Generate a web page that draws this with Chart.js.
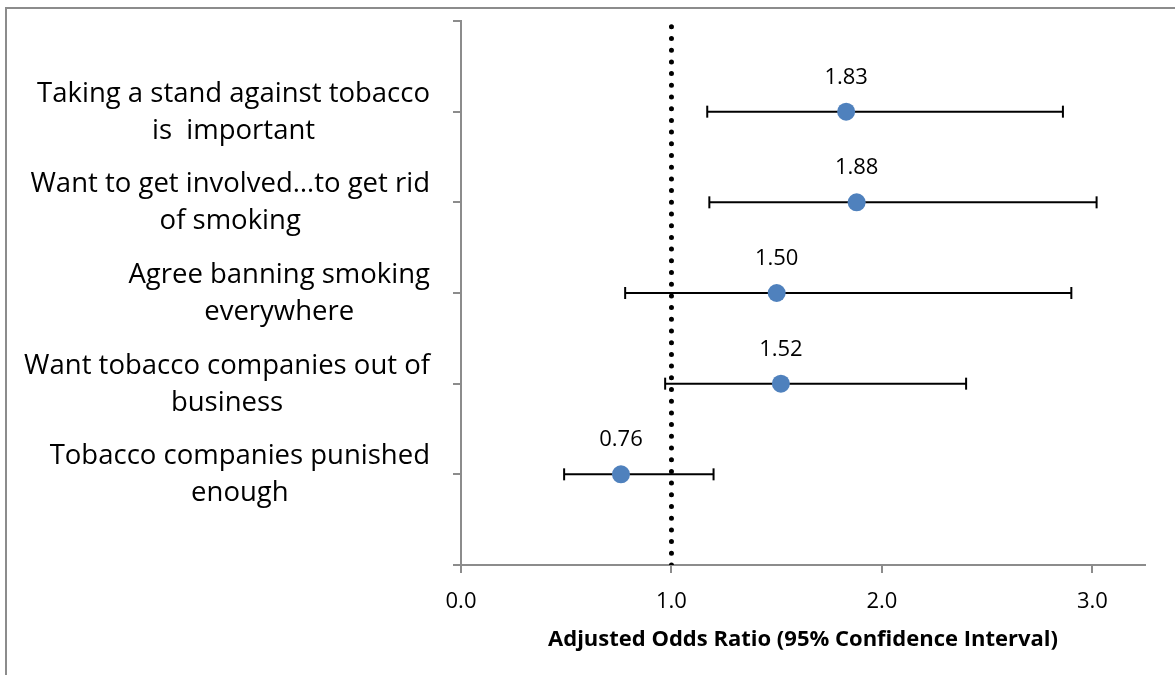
<!DOCTYPE html>
<html>
<head>
<meta charset="utf-8">
<title>Adjusted Odds Ratios</title>
<script src="https://cdn.jsdelivr.net/npm/chart.js@4/dist/chart.umd.min.js"></script>
<style>
  html, body { margin: 0; padding: 0; background: #ffffff; }
  #wrap { width: 1175px; height: 675px; }
</style>
</head>
<body>
<div id="wrap"><canvas id="c" width="1175" height="675"></canvas></div>
<script>
// Survey items (each wrapped onto two lines)
const categories = [
  ['Taking a stand against tobacco', 'is  important'],
  ['Want to get involved\u2026to get rid', 'of smoking'],
  ['Agree banning smoking', 'everywhere'],
  ['Want tobacco companies out of', 'business'],
  ['Tobacco companies punished', 'enough']
];
// Adjusted odds ratios and 95% confidence limits
const oddsRatios = [1.83, 1.88, 1.50, 1.52, 0.76];
const ciLower    = [1.17, 1.18, 0.78, 0.97, 0.49];
const ciUpper    = [2.86, 3.02, 2.90, 2.40, 1.20];
// Row position of each item on the vertical axis (top row first)
const rowPositions = [5, 4, 3, 2, 1];
// Horizontal axis ticks and the line of no effect
const xTickValues = [0, 1, 2, 3];
const referenceValue = 1;

const FONT = '"Open Sans", Lato, sans-serif';
const AXIS_GREY = '#8c8c8c';

// Grey frame along the top and left edges
const framePlugin = {
  id: 'frame',
  beforeDraw(chart) {
    const ctx = chart.ctx;
    ctx.save();
    ctx.fillStyle = '#ffffff';
    ctx.fillRect(0, 0, chart.width, chart.height);
    ctx.strokeStyle = AXIS_GREY;
    ctx.lineWidth = 2;
    ctx.beginPath();
    ctx.moveTo(6, chart.height);
    ctx.lineTo(6, 8);
    ctx.lineTo(chart.width, 8);
    ctx.stroke();
    ctx.restore();
  }
};

// Item labels: each block right-aligned to the axis, lines centred within it
const itemLabelPlugin = {
  id: 'itemLabels',
  afterDraw(chart) {
    const ctx = chart.ctx;
    const y = chart.scales.y;
    const rightEdge = 430;
    ctx.save();
    ctx.font = '27.5px ' + FONT;
    ctx.fillStyle = '#000000';
    ctx.textAlign = 'center';
    ctx.textBaseline = 'alphabetic';
    categories.forEach((lines, i) => {
      const widest = Math.max(...lines.map(l => ctx.measureText(l).width));
      const cx = rightEdge - widest / 2;
      const py = y.getPixelForValue(rowPositions[i]);
      ctx.fillText(lines[0], cx, py - 10);
      ctx.fillText(lines[1], cx, py + 27);
    });
    ctx.restore();
  }
};

// Value labels above each estimate
const valueLabelPlugin = {
  id: 'valueLabels',
  afterDatasetsDraw(chart) {
    const ctx = chart.ctx;
    const x = chart.scales.x, y = chart.scales.y;
    ctx.save();
    ctx.font = '22px ' + FONT;
    ctx.fillStyle = '#000000';
    ctx.textAlign = 'center';
    ctx.textBaseline = 'alphabetic';
    oddsRatios.forEach((v, i) => {
      ctx.fillText(v.toFixed(2), x.getPixelForValue(v), y.getPixelForValue(rowPositions[i]) - 28);
    });
    ctx.restore();
  }
};

// One line dataset per confidence interval, with vertical caps at both ends
const intervalDatasets = oddsRatios.map((v, i) => ({
  type: 'line',
  data: [{ x: ciLower[i], y: rowPositions[i] }, { x: ciUpper[i], y: rowPositions[i] }],
  showLine: true,
  borderColor: '#000000',
  borderWidth: 2,
  pointStyle: 'line',
  rotation: 90,
  pointRadius: 6,
  pointBorderWidth: 2,
  pointBorderColor: '#000000',
  order: 2
}));

new Chart(document.getElementById('c'), {
  type: 'scatter',
  data: {
    datasets: [
      {
        data: oddsRatios.map((v, i) => ({ x: v, y: rowPositions[i] })),
        backgroundColor: '#4f81bd',
        borderColor: '#4f81bd',
        pointRadius: 9,
        pointBorderWidth: 0,
        order: 0
      },
      {
        type: 'line',
        data: [{ x: referenceValue, y: 0 }, { x: referenceValue, y: 6 }],
        showLine: true,
        borderColor: '#000000',
        borderWidth: 5,
        borderDash: [0, 11.7],
        borderCapStyle: 'round',
        pointRadius: 0,
        order: 1
      },
      ...intervalDatasets
    ]
  },
  options: {
    responsive: false,
    animation: false,
    devicePixelRatio: 1,
    layout: { padding: { top: 21, right: 30, bottom: 0, left: 0 } },
    plugins: {
      legend: { display: false },
      tooltip: { enabled: false }
    },
    scales: {
      x: {
        type: 'linear',
        min: 0,
        max: 3.25,
        afterBuildTicks(scale) {
          scale.ticks = xTickValues.map(v => ({ value: v }));
        },
        afterFit(scale) { scale.height = 110; },
        ticks: {
          callback: v => Number(v).toFixed(1),
          font: { family: FONT, size: 22 },
          color: '#000000',
          padding: 16,
          maxRotation: 0
        },
        grid: { drawOnChartArea: false, tickLength: 8, color: AXIS_GREY, lineWidth: 2 },
        border: { color: AXIS_GREY, width: 2 },
        title: {
          display: true,
          text: 'Adjusted Odds Ratio (95% Confidence Interval)',
          font: { family: FONT, size: 22, weight: 'bold' },
          color: '#000000',
          padding: { top: 0, bottom: 22 }
        }
      },
      y: {
        type: 'linear',
        min: 0,
        max: 6,
        ticks: { stepSize: 1, display: false },
        afterFit(scale) { scale.width = 461; },
        grid: { drawOnChartArea: false, tickLength: 8, color: AXIS_GREY, lineWidth: 2 },
        border: { color: AXIS_GREY, width: 2 }
      }
    }
  },
  plugins: [framePlugin, itemLabelPlugin, valueLabelPlugin]
});
</script>
</body>
</html>
